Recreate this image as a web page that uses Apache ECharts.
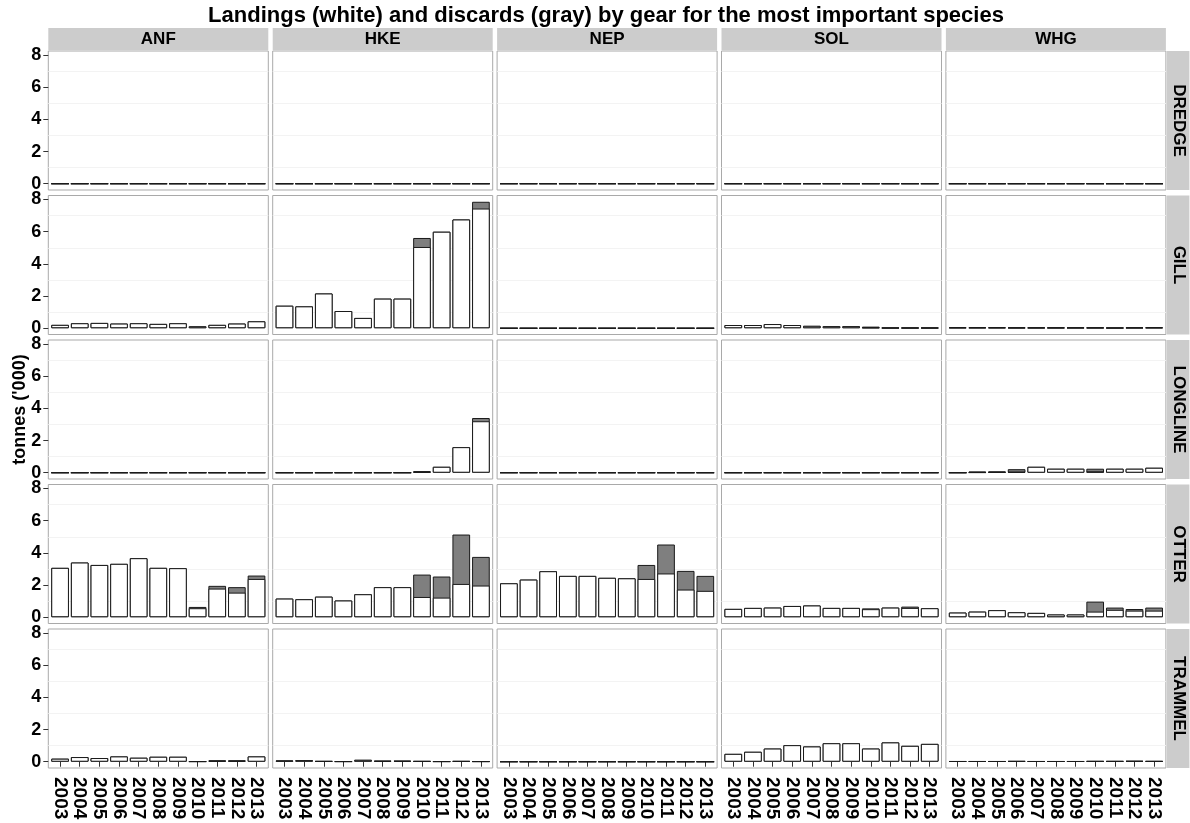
<!DOCTYPE html>
<html>
<head>
<meta charset="utf-8">
<script src="https://cdn.jsdelivr.net/npm/echarts@6.0.0/dist/echarts.min.js"></script>
<style>
  html, body { margin: 0; padding: 0; background: #fff; }
  #main { width: 1190px; height: 823px; }
</style>
</head>
<body>
<div id="main"></div>
<script>
var years = ['2003', '2004', '2005', '2006', '2007', '2008', '2009', '2010', '2011', '2012', '2013'];
var species = ['ANF', 'HKE', 'NEP', 'SOL', 'WHG'];
var gears = ['DREDGE', 'GILL', 'LONGLINE', 'OTTER', 'TRAMMEL'];
var yTicks = [0, 2, 4, 6, 8];
var minorLines = [1, 3, 5, 7];
var zeros = [0, 0, 0, 0, 0, 0, 0, 0, 0, 0, 0];

// thousand tonnes, per species, 2003..2013
var landingsDREDGE = {ANF: zeros, HKE: zeros, NEP: zeros, SOL: zeros, WHG: zeros};
var discardsDREDGE = {ANF: zeros, HKE: zeros, NEP: zeros, SOL: zeros, WHG: zeros};

var landingsGILL = {
    ANF: [0.21, 0.31, 0.33, 0.29, 0.31, 0.27, 0.31, 0.12, 0.21, 0.29, 0.43],
    HKE: [1.40, 1.36, 2.16, 1.07, 0.64, 1.84, 1.84, 5.05, 6.00, 6.76, 7.44],
    NEP: zeros,
    SOL: [0.20, 0.20, 0.26, 0.20, 0.15, 0.13, 0.13, 0.04, 0.03, 0.03, 0.03],
    WHG: [0.05, 0.05, 0.05, 0.04, 0.04, 0.04, 0.04, 0.04, 0.03, 0.04, 0.05]
};
var discardsGILL = {
    ANF: zeros,
    HKE: [0, 0, 0, 0, 0, 0, 0, 0.56, 0, 0, 0.42],
    NEP: zeros,
    SOL: [0, 0, 0, 0, 0, 0, 0, 0.06, 0, 0, 0],
    WHG: zeros
};

var landingsLONGLINE = {
    ANF: zeros,
    HKE: [0, 0, 0, 0, 0, 0, 0, 0.05, 0.37, 1.59, 3.20],
    NEP: zeros,
    SOL: zeros,
    WHG: [0, 0.02, 0.03, 0.05, 0.37, 0.25, 0.25, 0.08, 0.25, 0.25, 0.31]
};
var discardsLONGLINE = {
    ANF: zeros,
    HKE: [0, 0, 0, 0, 0, 0, 0, 0.05, 0, 0, 0.20],
    NEP: zeros,
    SOL: zeros,
    WHG: [0, 0.06, 0.06, 0.17, 0, 0, 0, 0.17, 0, 0, 0]
};

var landingsOTTER = {
    ANF: [3.07, 3.40, 3.25, 3.32, 3.67, 3.07, 3.05, 0.56, 1.78, 1.53, 2.38],
    HKE: [1.16, 1.12, 1.28, 1.04, 1.43, 1.87, 1.87, 1.26, 1.22, 2.07, 1.97],
    NEP: [2.11, 2.34, 2.86, 2.57, 2.57, 2.45, 2.42, 2.38, 2.72, 1.72, 1.64],
    SOL: [0.52, 0.58, 0.60, 0.70, 0.73, 0.58, 0.58, 0.50, 0.60, 0.58, 0.56],
    WHG: [0.29, 0.35, 0.44, 0.31, 0.27, 0.17, 0.17, 0.35, 0.46, 0.41, 0.41]
};
var discardsOTTER = {
    ANF: [0, 0, 0, 0, 0, 0, 0, 0.08, 0.17, 0.34, 0.21],
    HKE: [0, 0, 0, 0, 0, 0, 0, 1.39, 1.31, 3.07, 1.78],
    NEP: [0, 0, 0, 0, 0, 0, 0, 0.87, 1.80, 1.16, 0.93],
    SOL: [0, 0, 0, 0, 0, 0, 0, 0.05, 0, 0.08, 0],
    WHG: [0, 0, 0, 0, 0, 0, 0, 0.62, 0.14, 0.10, 0.19]
};

var landingsTRAMMEL = {
    ANF: [0.19, 0.29, 0.23, 0.33, 0.25, 0.31, 0.31, 0.02, 0.06, 0.06, 0.33],
    HKE: [0.08, 0.10, 0.04, 0.02, 0.12, 0.06, 0.06, 0.04, 0.02, 0.04, 0.02],
    NEP: zeros,
    SOL: [0.49, 0.62, 0.82, 1.03, 0.95, 1.15, 1.15, 0.82, 1.20, 0.99, 1.11],
    WHG: [0.03, 0.03, 0.03, 0.04, 0.03, 0.03, 0.03, 0.04, 0.04, 0.05, 0.04]
};
var discardsTRAMMEL = {
    ANF: [0, 0, 0, 0, 0, 0, 0, 0, 0.03, 0.03, 0],
    HKE: zeros,
    NEP: zeros,
    SOL: zeros,
    WHG: zeros
};

var landings = [landingsDREDGE, landingsGILL, landingsLONGLINE, landingsOTTER, landingsTRAMMEL];
var discards = [discardsDREDGE, discardsGILL, discardsLONGLINE, discardsOTTER, discardsTRAMMEL];

// panel layout (px)
var PX0 = 48.3, PW = 220, PDX = 224.4;
var PY0 = 51, PH = 139, PDY = 144.5;
var YMIN = -0.39, YMAX = 8.25;
var BW = PW * 0.9 / 11.2;
var FONT = 'Liberation Sans';

var xTicks = years.map(function (y, i) { return i + 1; });

var grids = [], xAxes = [], yAxes = [], series = [], graphics = [];

for (var r = 0; r < gears.length; r++) {
    for (var c = 0; c < species.length; c++) {
        var k = grids.length;
        var isBottom = r === gears.length - 1, isLeft = c === 0;
        var land = landings[r][species[c]];
        var disc = discards[r][species[c]];

        grids.push({
            left: PX0 + c * PDX, top: PY0 + r * PDY, width: PW, height: PH,
            show: true, backgroundColor: '#fff', borderColor: '#a9a9a9', borderWidth: 1
        });
        xAxes.push({
            type: 'value', gridIndex: k, min: 0.4, max: 11.6,
            axisLine: {show: false}, splitLine: {show: false},
            axisTick: {show: isBottom, customValues: xTicks, length: 5, lineStyle: {color: '#333'}},
            axisLabel: {
                show: isBottom, customValues: xTicks, rotate: -90, margin: 9,
                formatter: function (v) { return years[Math.round(v) - 1]; },
                fontFamily: FONT, fontWeight: 'bold', fontSize: 19, color: '#000'
            }
        });
        yAxes.push({
            type: 'value', gridIndex: k, min: YMIN, max: YMAX,
            axisLine: {show: false}, splitLine: {show: false},
            axisTick: {show: isLeft, customValues: yTicks, length: 5, lineStyle: {color: '#333'}},
            axisLabel: {
                show: isLeft, customValues: yTicks, margin: 7,
                fontFamily: FONT, fontWeight: 'bold', fontSize: 18, color: '#000'
            }
        });

        // gray total (landings + discards) behind, white landings on top
        series.push({
            type: 'bar', xAxisIndex: k, yAxisIndex: k, silent: true,
            barWidth: BW, barGap: '-100%',
            data: land.map(function (v, i) { return [i + 1, +(v + disc[i]).toFixed(3)]; }),
            itemStyle: {color: '#7f7f7f', borderColor: '#1a1a1a', borderWidth: 1},
            markLine: {
                silent: true, z: 1, symbol: ['none', 'none'], label: {show: false},
                lineStyle: {color: '#f3f3f3', width: 1, type: 'solid'},
                data: minorLines.map(function (v) { return {yAxis: v}; })
            }
        });
        series.push({
            type: 'bar', xAxisIndex: k, yAxisIndex: k, silent: true,
            barWidth: BW, barGap: '-100%',
            data: land.map(function (v, i) { return [i + 1, v]; }),
            itemStyle: {color: '#fff', borderColor: '#1a1a1a', borderWidth: 1}
        });
    }
}

// strips
species.forEach(function (s, c) {
    graphics.push({
        type: 'rect', left: PX0 + c * PDX, top: 28,
        shape: {width: PW, height: 22}, style: {fill: '#cccccc'}, silent: true
    });
    graphics.push({
        type: 'text', x: PX0 + c * PDX + PW / 2, y: 39,
        style: {text: s, fill: '#000', font: 'bold 17px ' + FONT, align: 'center', verticalAlign: 'middle'}
    });
});
gears.forEach(function (g, r) {
    graphics.push({
        type: 'rect', left: PX0 + 4 * PDX + PW + 1, top: PY0 + r * PDY,
        shape: {width: 22.5, height: PH}, style: {fill: '#cccccc'}, silent: true
    });
    graphics.push({
        type: 'text', x: PX0 + 4 * PDX + PW + 12.5, y: PY0 + r * PDY + PH / 2, rotation: -Math.PI / 2,
        style: {text: g, fill: '#000', font: 'bold 17px ' + FONT, align: 'center', verticalAlign: 'middle'}
    });
});
graphics.push({
    type: 'text', x: 20, y: PY0 + (4 * PDY + PH) / 2, rotation: Math.PI / 2,
    style: {text: "tonnes ('000)", fill: '#000', font: 'bold 18px ' + FONT, align: 'center', verticalAlign: 'middle'}
});
graphics.push({
    type: 'text', x: 606, y: 16,
    style: {
        text: 'Landings (white) and discards (gray) by gear for the most important species',
        fill: '#000', font: 'bold 22px ' + FONT, align: 'center', verticalAlign: 'middle'
    }
});

var chart = echarts.init(document.getElementById('main'));
chart.setOption({
    animation: false,
    backgroundColor: '#fff',
    grid: grids,
    xAxis: xAxes,
    yAxis: yAxes,
    series: series,
    graphic: graphics
});
</script>
</body>
</html>
